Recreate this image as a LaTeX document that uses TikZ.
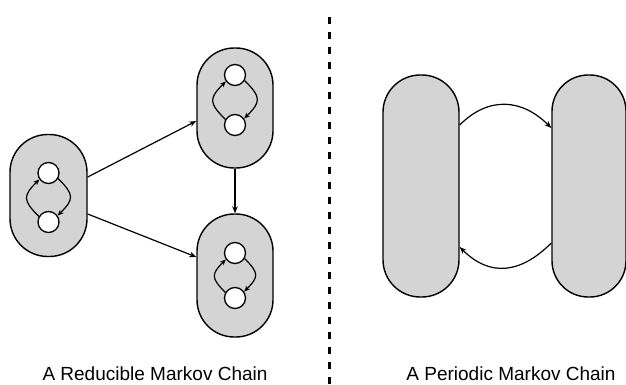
\documentclass[tikz,border=0pt]{standalone}
\usepackage{fontspec}
\setmainfont{Liberation Sans}
\usetikzlibrary{arrows.meta}
\definecolor{capfill}{HTML}{D4D4D4}
\begin{document}
\begin{tikzpicture}[x=1pt,y=1pt,
  capsule/.style={draw=black,line width=1.4pt,fill=capfill,minimum width=#1,rounded corners=0.49*#1,inner sep=0pt},
  state/.style={circle,draw=black,line width=1.3pt,fill=white,minimum size=21pt,inner sep=0pt},
  link/.style={line width=1.2pt,-{Stealth[length=7pt,width=5.5pt]}},
  loopl/.style={line width=1.2pt,-{Stealth[length=6pt,width=5pt]}},
  caption/.style={anchor=base,font=\fontsize{19}{22}\selectfont}]
\useasboundingbox (0,0) rectangle (626,384);

% reducible chain: three communicating classes
\node[capsule=77pt,minimum height=122pt] (L) at (48.5,188.5) {};
\node[capsule=76pt,minimum height=120pt] (A) at (235,276) {};
\node[capsule=76pt,minimum height=123pt] (B) at (235,108.5) {};

\node[state] (Lt) at (48.5,211) {};
\node[state] (Lb) at (48.5,162) {};
\node[state] (At) at (235,309) {};
\node[state] (Ab) at (235,259) {};
\node[state] (Bt) at (235,131) {};
\node[state] (Bb) at (235,86) {};

\foreach \t/\b in {Lt/Lb,At/Ab,Bt/Bb}{
  \draw[loopl] (\b.150) to[out=135,in=225,looseness=1.6] (\t.215);
  \draw[loopl] (\t.-30) to[out=-45,in=45,looseness=1.6] (\b.35);
}

\draw[link] ([yshift=18.5pt]L.east) -- ([yshift=-13pt]A.west);
\draw[link] ([yshift=-18.5pt]L.east) -- ([yshift=18.5pt]B.west);
\draw[link] (A.south) -- (B.north);

% separator
\coordinate (sepTop) at (329,370);
\coordinate (sepBot) at (329,0);
\draw[line width=3pt,dash pattern=on 7pt off 8pt] (sepBot) -- (sepTop);

% periodic chain: two alternating classes
\node[capsule=76pt,minimum height=222pt] (P) at (421,198) {};
\node[capsule=74pt,minimum height=222pt] (Q) at (589,198) {};
\draw[link] ([yshift=61pt]P.east) to[out=45,in=135,looseness=1.15] ([yshift=58pt]Q.west);
\draw[link] ([yshift=-57pt]Q.west) to[out=225,in=-45,looseness=1.2] ([yshift=-61pt]P.east);

\node[caption] (capL) at (155,4) {A Reducible Markov Chain};
\node[caption] (capR) at (511,4) {A Periodic Markov Chain};
\end{tikzpicture}
\end{document}
